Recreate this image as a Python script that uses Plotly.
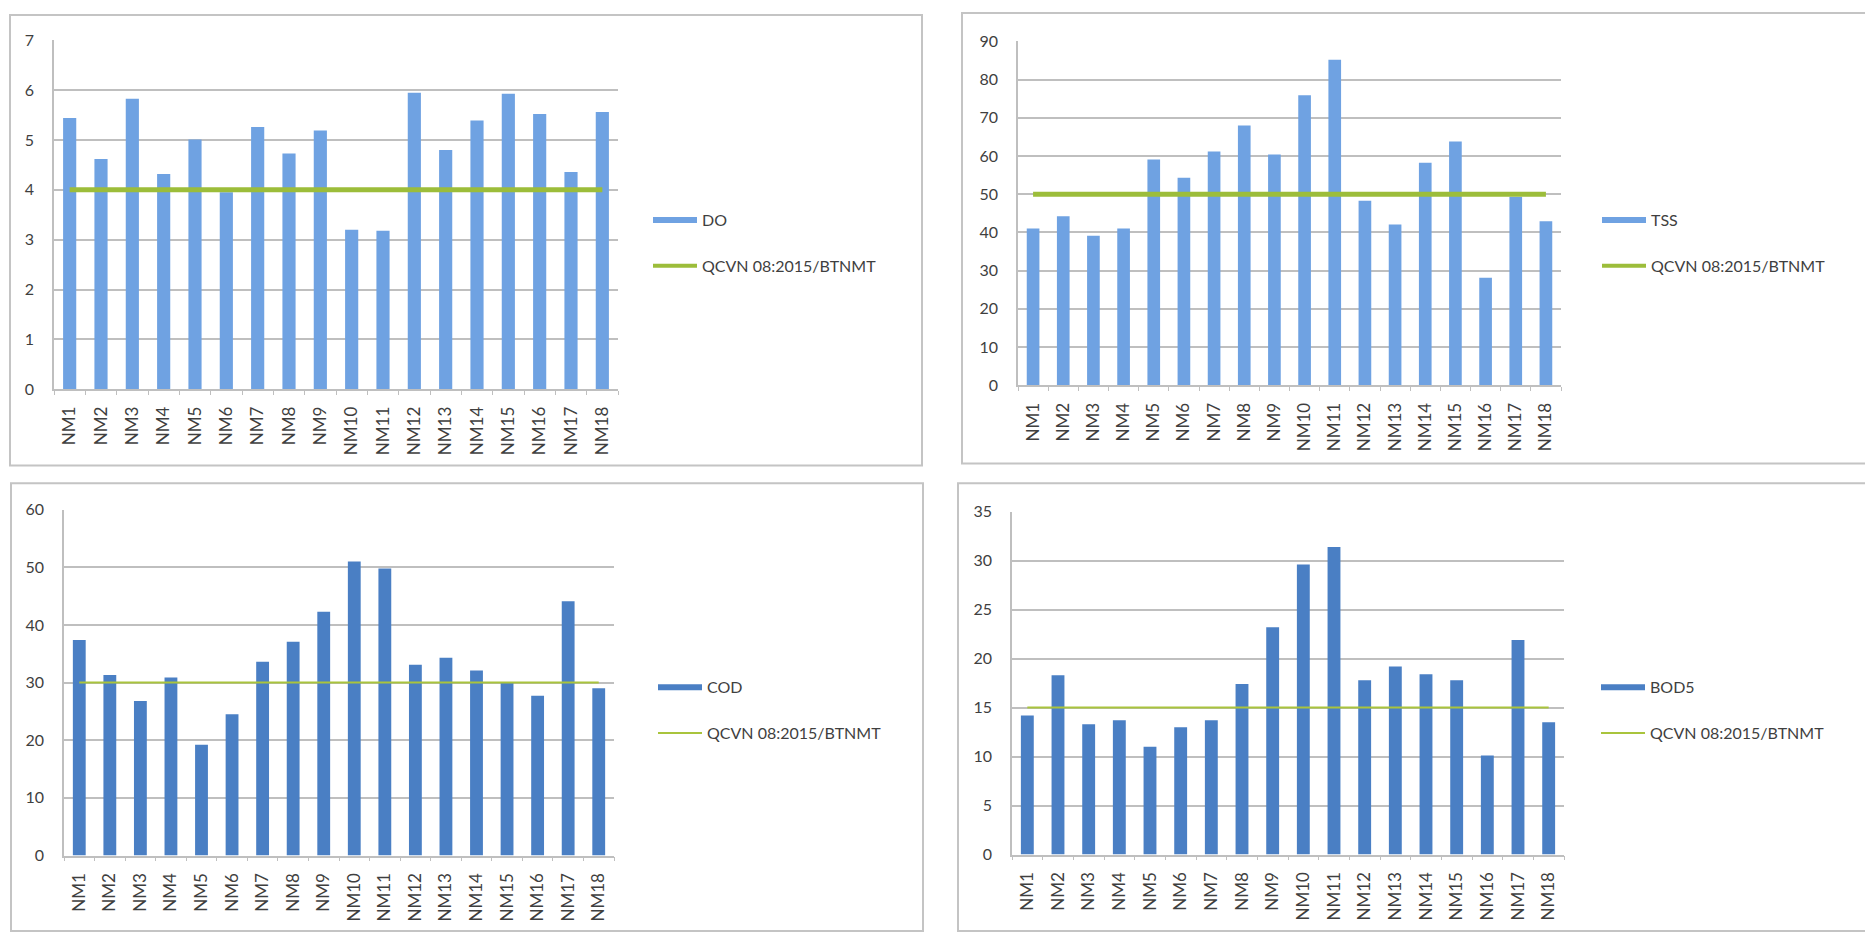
import plotly.graph_objects as go

W, H = 1865, 938

stations = ["NM1", "NM2", "NM3", "NM4", "NM5", "NM6", "NM7", "NM8", "NM9",
            "NM10", "NM11", "NM12", "NM13", "NM14", "NM15", "NM16", "NM17", "NM18"]

do_vals = [5.44, 4.62, 5.83, 4.32, 5.01, 3.95, 5.26, 4.73, 5.19,
           3.20, 3.18, 5.95, 4.80, 5.39, 5.93, 5.52, 4.36, 5.56]
tss_vals = [41.0, 44.2, 39.1, 41.0, 59.1, 54.3, 61.2, 68.0, 60.4,
            75.9, 85.2, 48.3, 42.1, 58.2, 63.8, 28.1, 49.3, 42.9]
cod_vals = [37.4, 31.3, 26.8, 30.9, 19.2, 24.5, 33.6, 37.1, 42.3,
            51.0, 49.8, 33.1, 34.3, 32.1, 30.0, 27.7, 44.1, 29.0]
bod5_vals = [14.2, 18.3, 13.3, 13.7, 11.0, 13.0, 13.7, 17.4, 23.2,
             29.6, 31.4, 17.8, 19.2, 18.4, 17.8, 10.1, 21.9, 13.5]

limit_do = 4
limit_tss = 50
limit_cod = 30
limit_bod5 = 15

std_name = "QCVN 08:2015/BTNMT"

FONT = "Lato, 'Open Sans', sans-serif"
TXT = "#3f3f3f"
GRID = "#bfbfbf"


def px_x(p):
    return p / W


def px_y(p):
    return 1 - p / H


panels = [
    dict(name="DO", vals=do_vals, lim=limit_do, dtick=1, ymax=7,
         xd=(54, 618), yd=(387, 31), bar="#6fa2e2", lw=5, lc="#9cbd3a",
         leg=(648, 197)),
    dict(name="TSS", vals=tss_vals, lim=limit_tss, dtick=10, ymax=90,
         xd=(1018, 1561), yd=(383, 32), bar="#6fa2e2", lw=5, lc="#9cbd3a",
         leg=(1597, 197)),
    dict(name="COD", vals=cod_vals, lim=limit_cod, dtick=10, ymax=60,
         xd=(64, 614), yd=(863, 510), bar="#4a7fc4", lw=2, lc="#a9c43c",
         leg=(653, 674)),
    dict(name="BOD5", vals=bod5_vals, lim=limit_bod5, dtick=5, ymax=35,
         xd=(1012, 1564), yd=(862, 512), bar="#4a7fc4", lw=2, lc="#a9c43c",
         leg=(1596, 674)),
]

fig = go.Figure()
layout = dict(
    width=W, height=H,
    margin=dict(l=0, r=0, t=0, b=0),
    paper_bgcolor="white", plot_bgcolor="white",
    bargap=0.58,
    showlegend=True,
    shapes=[],
)

for i, p in enumerate(panels):
    k = "" if i == 0 else str(i + 1)
    xa, ya = "x" + k, "y" + k
    legname = "legend" + k
    fig.add_trace(go.Bar(
        x=stations, y=p["vals"], name=p["name"],
        marker=dict(color=p["bar"], line=dict(width=0)),
        xaxis=xa, yaxis=ya, showlegend=False,
    ))
    fig.add_trace(go.Scatter(
        x=stations, y=[p["lim"]] * len(stations), name=std_name,
        mode="lines", line=dict(color=p["lc"], width=p["lw"]),
        xaxis=xa, yaxis=ya, showlegend=False,
    ))
    # legend proxies (Excel-style line swatches)
    fig.add_trace(go.Scatter(
        x=[None], y=[None], name=p["name"], mode="lines",
        line=dict(color=p["bar"], width=6), xaxis=xa, yaxis=ya,
        legend=legname, legendgroup=p["name"] + "a",
    ))
    fig.add_trace(go.Scatter(
        x=[None], y=[None], name=std_name, mode="lines",
        line=dict(color=p["lc"], width=4 if p["lw"] > 2 else 2),
        xaxis=xa, yaxis=ya, legend=legname, legendgroup=p["name"] + "b",
    ))
    layout["xaxis" + k] = dict(
        domain=[px_x(p["xd"][0]), px_x(p["xd"][1])],
        anchor=ya, type="category",
        tickangle=-90, tickfont=dict(family=FONT, size=17, color=TXT),
        showline=True, linecolor=GRID, linewidth=1.5,
        ticks="outside", ticklen=4, tickcolor=GRID, tickson="boundaries",
        showgrid=False, ticklabelstandoff=9,
    )
    layout["yaxis" + k] = dict(
        domain=[px_y(p["yd"][0]), px_y(p["yd"][1])],
        anchor=xa, range=[0, p["ymax"]], dtick=p["dtick"],
        tickfont=dict(family=FONT, size=16, color=TXT),
        showline=True, linecolor=GRID, linewidth=1.5,
        showgrid=True, gridcolor=GRID, gridwidth=1.5,
        zeroline=False, ticks="", ticklabelstandoff=15,
    )
    layout[legname] = dict(
        x=px_x(p["leg"][0]), y=px_y(p["leg"][1]),
        xanchor="left", yanchor="top",
        bgcolor="rgba(0,0,0,0)", borderwidth=0,
        font=dict(family=FONT, size=16, color=TXT),
        itemwidth=44, traceorder="grouped", tracegroupgap=22,
    )

# chart frames
frames = [(10, 5, 922, 465), (962, 3, 1866, 463),
          (11, 483, 923, 940), (958, 483, 1866, 940)]
for x0, y0, x1, y1 in frames:
    layout["shapes"].append(dict(
        type="rect", xref="paper", yref="paper",
        x0=px_x(x0), x1=px_x(x1), y0=px_y(y1), y1=px_y(y0),
        line=dict(color="#c4c4c4", width=2), fillcolor="rgba(0,0,0,0)",
        layer="below",
    ))

fig.update_layout(**layout)
fig.write_html(
    "out.html",
    config={"displayModeBar": False},
    post_script="document.body.style.margin='0';document.body.style.overflow='hidden';",
)
